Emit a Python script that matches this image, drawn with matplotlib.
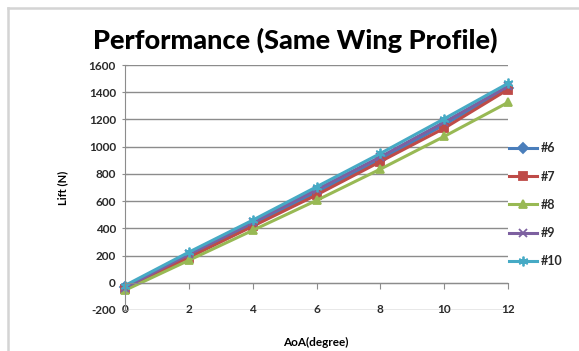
import matplotlib
matplotlib.use("Agg")
import matplotlib.pyplot as plt
from matplotlib.lines import Line2D

# angle of attack (degrees) and measured lift (N) per wing
aoa = [0, 2, 4, 6, 8, 10, 12]
lift_6 = [-30, 200, 430, 665, 905, 1160, 1430]
lift_7 = [-45, 185, 415, 645, 890, 1135, 1420]
lift_8 = [-55, 165, 385, 605, 835, 1075, 1325]
lift_9 = [-35, 210, 445, 685, 925, 1180, 1445]
lift_10 = [-20, 225, 460, 705, 950, 1205, 1465]
series_names = ["#6", "#7", "#8", "#9", "#10"]
y_ticks = [-200, 0, 200, 400, 600, 800, 1000, 1200, 1400, 1600]
x_ticks = [0, 2, 4, 6, 8, 10, 12]

plt.rcParams['font.family'] = ['Lato', 'DejaVu Sans']
plt.rcParams['axes.unicode_minus'] = False

fig = plt.figure(figsize=(5.79, 3.51), dpi=100)
fig.patch.set_facecolor("white")

# outer chart frame (left and top edges only show)
fig.lines.append(Line2D([8 / 579, 8 / 579], [0, 1 - 8 / 351], transform=fig.transFigure,
                        color="#d4d4d4", linewidth=1.8))
fig.lines.append(Line2D([8 / 579, 1], [1 - 8 / 351, 1 - 8 / 351], transform=fig.transFigure,
                        color="#d4d4d4", linewidth=1.8))

ax = fig.add_axes([125 / 579, 1 - 310 / 351, (508 - 125) / 579, (310 - 65) / 351])

styles = [
    (lift_6, "#4A7EBB", "D", 5),
    (lift_7, "#BE4B48", "s", 6),
    (lift_8, "#98B954", "^", 6),
    (lift_9, "#7D60A0", "x", 6),
    (lift_10, "#46AAC5", (6, 2, 0), 7),
]
for (vals, col, mk, ms), name in zip(styles, series_names):
    ax.plot(aoa, vals, color=col, linewidth=2.2, marker=mk, markersize=ms,
            markeredgewidth=1.3, markerfacecolor=col, markeredgecolor=col,
            label=name, clip_on=False)

ax.set_xlim(0, 12)
ax.set_ylim(-200, 1600)
ax.set_xticks(x_ticks)
ax.set_yticks(y_ticks)

ax.yaxis.grid(True, color="#8c8c8c", linewidth=1.0)
ax.set_axisbelow(True)

for s in ["top", "right"]:
    ax.spines[s].set_visible(False)
ax.spines["left"].set_color("#8c8c8c")
ax.spines["bottom"].set_color("#8c8c8c")
ax.spines["bottom"].set_position(("data", 0))

ax.tick_params(axis="x", direction="out", length=4, color="#8c8c8c",
               labelsize=8.5, labelcolor="#2a2a2a", pad=11)
ax.tick_params(axis="y", direction="inout", length=5, color="#8c8c8c",
               labelsize=8.5, labelcolor="#2a2a2a", pad=4)
for lbl in ax.get_xticklabels() + ax.get_yticklabels():
    lbl.set_fontweight("bold")

fig.text(295 / 579, 1 - 40 / 351, "Performance (Same Wing Profile)",
         ha="center", va="center", fontsize=19.5, fontweight="black")
fig.text(63 / 579, 1 - 188 / 351, "Lift (N)", ha="center", va="center",
         rotation=90, fontsize=8, fontweight="bold")
fig.text(316 / 579, 1 - 342 / 351, "AoA(degree)", ha="center", va="center",
         fontsize=8.5, fontweight="bold")

leg = ax.legend(loc="upper left", bbox_to_anchor=(0.99, 0.705), frameon=False,
                fontsize=9, handlelength=2.2, handletextpad=0.3,
                labelspacing=1.3, borderaxespad=0)
for t in leg.get_texts():
    t.set_color("#2a2a2a")
    t.set_fontweight("bold")

fig.savefig("out.png", dpi=100)
